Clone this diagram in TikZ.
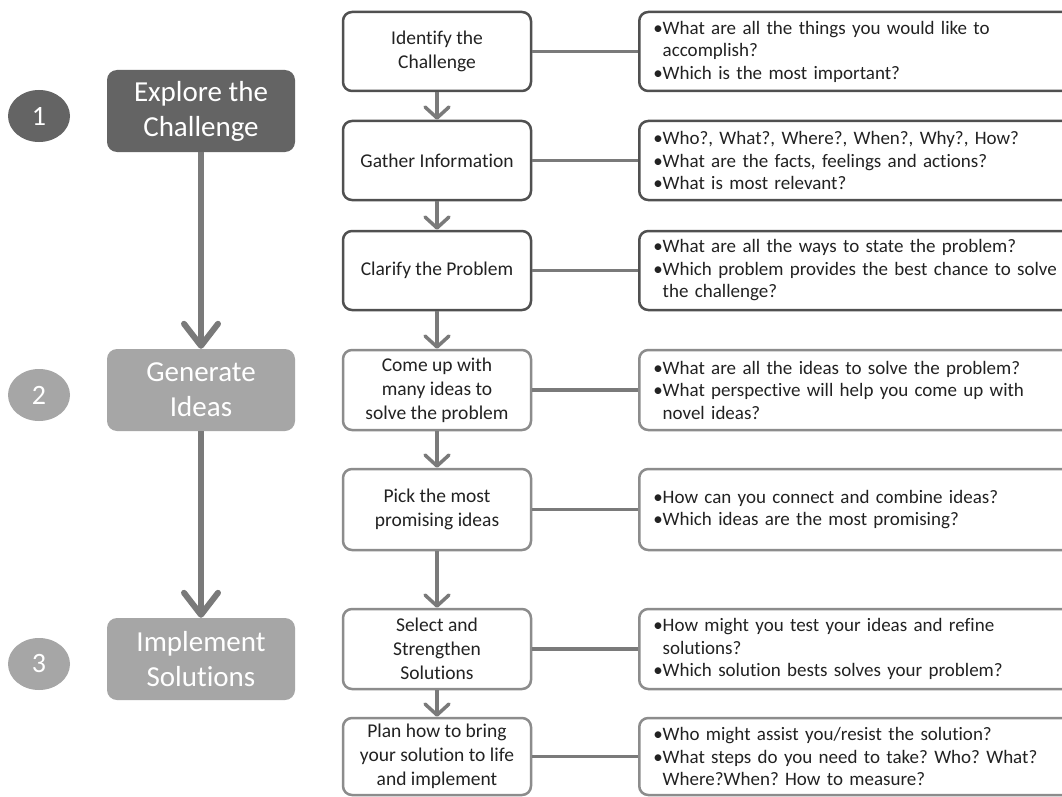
\documentclass[tikz,border=0pt]{standalone}
\usepackage{fontspec}
\setmainfont{Carlito}[Ligatures={NoCommon}]
\usetikzlibrary{arrows.meta,shapes.geometric}
\definecolor{darkfill}{HTML}{646464}
\definecolor{lightfill}{HTML}{A6A6A6}
\definecolor{darkline}{HTML}{505050}
\definecolor{lightline}{HTML}{8C8C8C}
\definecolor{linkgray}{HTML}{7A7A7A}
\definecolor{textgray}{HTML}{222222}
\frenchspacing
\begin{document}
\begin{tikzpicture}[x=1pt,y=-1pt,
  phase/.style={rectangle, rounded corners=10pt, fill=#1, minimum width=188pt,
    minimum height=82pt, text=white, align=center, inner sep=0pt,
    font=\fontsize{29}{35}\selectfont},
  num/.style={ellipse, fill=#1, minimum width=62pt, minimum height=52pt,
    text=white, inner sep=0pt, font=\fontsize{28}{32}\selectfont},
  stepbox/.style={rectangle, rounded corners=9pt, draw=#1, line width=2.5pt,
    fill=white, minimum width=188pt, align=center, text=textgray, inner sep=0pt,
    font=\fontsize{19.5}{24}\selectfont},
  qbox/.style={rectangle, rounded corners=9pt, draw=#1, line width=2.5pt,
    fill=white, minimum width=440pt, text width=412pt, align=left, anchor=west,
    text=textgray, inner xsep=14pt, inner ysep=0pt,
    font=\fontsize{19}{22.5}\selectfont},
  link/.style={draw=linkgray, line width=3.5pt},
  smallarrow/.style={draw=linkgray, line width=3.5pt,
    -{Straight Barb[length=11pt,width=24pt,round]}},
  bigarrow/.style={draw=linkgray, line width=6pt,
    -{Straight Barb[length=22pt,width=34pt,round]}}
]
\useasboundingbox (0,0) rectangle (1062,797);
\fill[white] (0,0) rectangle (1062,797);
\begin{scope}
\clip (0,0) rectangle (1062,797);

% phases on the left
\node[num=darkfill]  (n1) at (39,116) {1};
\node[num=lightfill] (n2) at (39,395) {2};
\node[num=lightfill] (n3) at (39,664) {3};
\node[phase=darkfill]  (p1) at (201,111) {Explore the\\Challenge};
\node[phase=lightfill] (p2) at (201,390) {Generate\\Ideas};
\node[phase=lightfill] (p3) at (201,659) {Implement\\Solutions};
\draw[bigarrow] (p1.south) -- (p2.north);
\draw[bigarrow] (p2.south) -- (p3.north);

% steps in the middle column
\node[stepbox=darkline, minimum height=79pt] (s1) at (437,51.5) {Identify the\\Challenge};
\node[stepbox=darkline, minimum height=79pt] (s2) at (437,160.5) {Gather Information};
\node[stepbox=darkline, minimum height=79pt] (s3) at (437,270.5) {Clarify the Problem};
\node[stepbox=lightline, minimum height=80pt] (s4) at (437,390) {Come up with\\many ideas to\\solve the problem};
\node[stepbox=lightline, minimum height=81pt] (s5) at (437,509.5) {Pick the most\\promising ideas};
\node[stepbox=lightline, minimum height=80pt] (s6) at (437,649) {Select and\\Strengthen\\Solutions};
\node[stepbox=lightline, minimum height=77pt] (s7) at (437,756.5) {Plan how to bring\\your solution to life\\and implement};

% guiding questions on the right
\node[qbox=darkline, minimum height=79pt] (q1) at (638,51.5)
  {•What are all the things you would like to\\\phantom{•}accomplish?\\•Which is the most important?};
\node[qbox=darkline, minimum height=79pt] (q2) at (638,160.5)
  {•Who?, What?, Where?, When?, Why?, How?\\•What are the facts, feelings and actions?\\•What is most relevant?};
\node[qbox=darkline, minimum height=79pt] (q3) at (638,270.5)
  {•What are all the ways to state the problem?\\•Which problem provides the best chance to solve\\\phantom{•}the challenge?};
\node[qbox=lightline, minimum height=80pt] (q4) at (638,390)
  {•What are all the ideas to solve the problem?\\•What perspective will help you come up with\\\phantom{•}novel ideas?};
\node[qbox=lightline, minimum height=81pt] (q5) at (638,509.5)
  {•How can you connect and combine ideas?\\•Which ideas are the most promising?};
\node[qbox=lightline, minimum height=80pt] (q6) at (638,649)
  {•How might you test your ideas and refine\\\phantom{•}solutions?\\•Which solution bests solves your problem?};
\node[qbox=lightline, minimum height=77pt] (q7) at (638,756.5)
  {•Who might assist you/resist the solution?\\•What steps do you need to take? Who? What?\\\phantom{•}Where?When? How to measure?};

% flow between steps
\foreach \a/\b in {s1/s2,s2/s3,s3/s4,s4/s5,s5/s6,s6/s7}
  \draw[smallarrow] (\a.south) -- (\b.north);
% step-to-question links
\foreach \i in {1,...,7}
  \draw[link] (s\i.east) -- (q\i.west);
\end{scope}
\end{tikzpicture}
\end{document}
